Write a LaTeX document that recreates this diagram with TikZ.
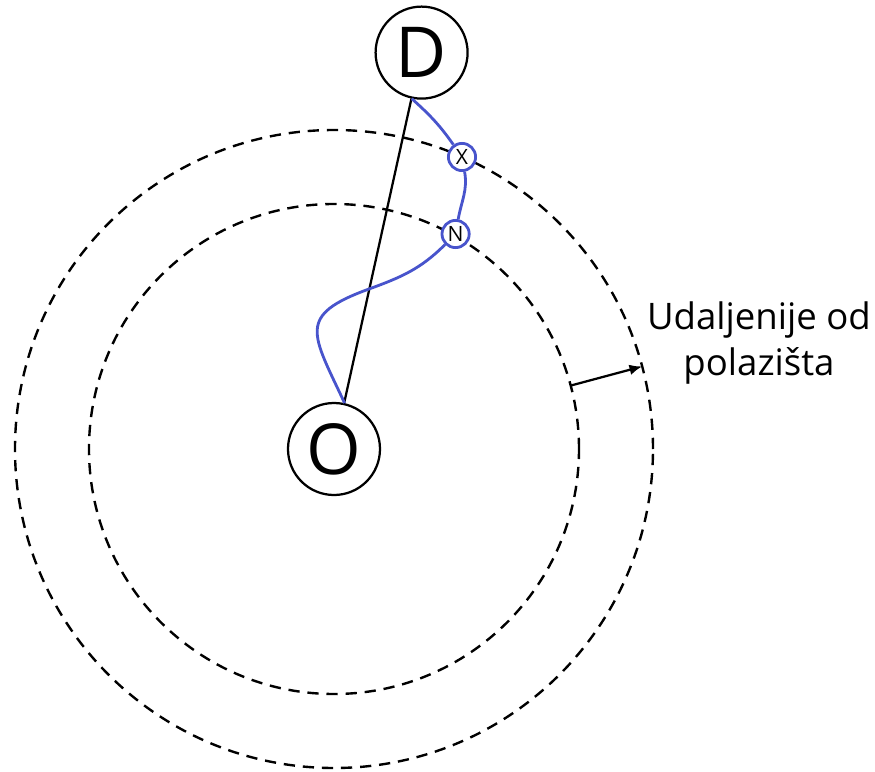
\documentclass[tikz,border=0pt]{standalone}
\usepackage{fontspec}
\setmainfont{Open Sans}
\usetikzlibrary{arrows.meta}
\definecolor{routeblue}{RGB}{72,84,204}
\tikzset{
	endpoint/.style={circle,draw,line width=1.6pt,minimum size=2.3cm,inner sep=0pt,font=\fontsize{50}{60}\selectfont},
	waypoint/.style={circle,draw=routeblue,fill=white,line width=2pt,minimum size=0.68cm,inner sep=0pt,font=\fontsize{15}{17}\selectfont},
	ring/.style={line width=1.7pt,dash pattern=on 8pt off 5.6pt},
}
\begin{document}
\begin{tikzpicture}
			\useasboundingbox (-8.35,-8.05) rectangle (13.525,11.225);

			% Ringe
			\draw[ring] (0,0) circle (6.125);
			\draw[ring] (0,0) circle (7.975);

			% Start und Ziel
			\node[endpoint] (O) at (0,0) {O};
			\node[endpoint] (D) at (2.19,9.91) {D};

			% Luftlinie
			\draw[line width=1.6pt] (D) -- (O);

			% Wegpunkte
			\node[waypoint] (X) at (3.2,7.3) {X};
			\node[waypoint] (N) at (3.04,5.375) {N};
			\coordinate (bend) at (0.875,4);

			% Route
			\draw[routeblue,line width=2pt] (D.-102.5) to[out=-42,in=125] (X)
				to[out=-80,in=80] (N) to[out=-135,in=20] (bend)
				to[out=200,in=115,looseness=1.7] (O.77.5);

			% Abstand
			\coordinate (r1) at (15:6.125);
			\coordinate (r2) at (15:7.975);
			\draw[-{Latex[length=9pt,width=7.5pt]},line width=1.6pt] (r1) -- (r2);
			\node[align=center,font=\fontsize{26}{33.4}\selectfont] (label) at (10.625,2.65) {Udaljenije od\\polazišta};

		\end{tikzpicture}
\end{document}
